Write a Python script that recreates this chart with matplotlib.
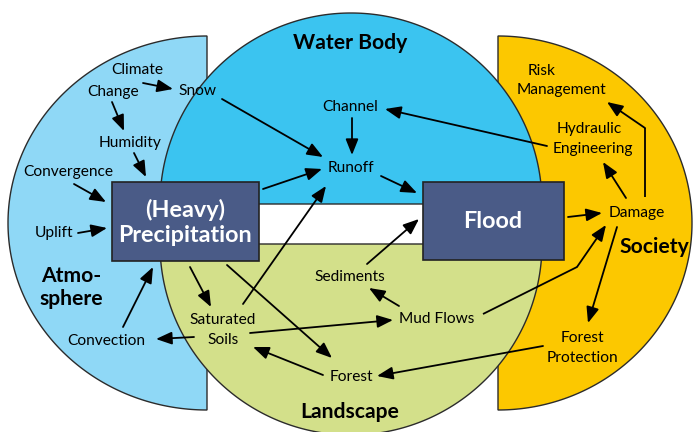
import numpy as np
import matplotlib
matplotlib.use("Agg")
import matplotlib.pyplot as plt
from matplotlib.patches import Polygon, Rectangle, FancyArrowPatch

plt.rcParams['font.family'] = ['Lato', 'DejaVu Sans']

# ---- regions: (name, center x, center y, semi-axis x, semi-axis y, angle start, angle end, color)
region_names = ["Atmosphere", "Society", "Water Body", "Landscape"]
region_cx = [207, 498, 351, 351]
region_cy = [223, 223, 204, 244]
region_ax = [199, 194, 191, 191]
region_ay = [187, 187, 191, 191]
region_t0 = [90, -90, 0, 180]
region_t1 = [270, 90, 180, 360]
region_colors = ["#8fd8f6", "#fcc800", "#3bc4f0", "#d3e08a"]

# ---- boxes
box_labels = ["(Heavy)", "Precipitation", "Flood"]
box_label_x = [185, 185, 493]
box_label_y = [210, 236, 222]
box_x0 = [112, 423]
box_y0 = [182, 182]
box_x1 = [259, 564]
box_y1 = [261, 260]

# ---- region titles
title_texts = ["Water Body", "Atmo-", "sphere", "Society", "Landscape"]
title_x = [350, 71, 71, 654, 350]
title_y = [43, 276, 299, 247, 412]

# ---- node labels
node_texts = ["Climate", "Change", "Snow", "Humidity", "Convergence", "Uplift",
              "Convection", "Saturated", "Soils", "Channel", "Runoff", "Sediments",
              "Mud Flows", "Forest", "Risk", "Management", "Hydraulic", "Engineering",
              "Damage", "Forest", "Protection"]
node_x = [137, 113, 197, 130, 68, 54, 106, 223, 223, 350, 351, 350, 437, 351, 542, 562,
          589, 593, 637, 582, 582]
node_y = [70, 92, 91, 143, 172, 233, 341, 320, 340, 107, 168, 277, 319, 377, 71, 90,
          129, 149, 213, 338, 358]

# ---- arrows (polylines, last point gets the head)
arrow_paths = [
    [(143, 83), (173, 89)],          # Climate -> Snow
    [(112, 102), (124, 131)],        # Change -> Humidity
    [(134, 153), (146, 177)],        # Humidity -> Precip
    [(74, 184), (106, 202)],         # Convergence -> Precip
    [(222, 99), (323, 157)],         # Snow -> Runoff
    [(263, 189), (322, 169)],        # Precip -> Runoff
    [(243, 304), (326, 186)],        # Saturated -> Runoff
    [(352, 118), (352, 155)],        # Channel -> Runoff
    [(381, 176), (417, 193)],        # Runoff -> Flood
    [(547, 146), (385, 109)],        # Hydraulic -> Channel
    [(626, 198), (603, 162)],        # Damage -> Hydraulic
    [(645, 197), (645, 128), (607, 102)],  # Damage -> Risk Management
    [(568, 217), (602, 213)],        # Flood -> Damage
    [(78, 233), (107, 228)],         # Uplift -> Precip
    [(123, 327), (153, 267)],        # Convection -> Precip
    [(190, 267), (211, 307)],        # Precip -> Saturated
    [(227, 265), (332, 358)],        # Precip -> Forest
    [(194, 337), (156, 339)],        # Saturated -> Convection
    [(250, 333), (393, 320)],        # Saturated -> Mud Flows
    [(323, 375), (253, 347)],        # Forest -> Saturated
    [(367, 264), (419, 219)],        # Sediments -> Flood
    [(399, 306), (369, 288)],        # Mud Flows -> Sediments
    [(483, 314), (577, 267), (606, 225)],  # Mud Flows -> Damage
    [(617, 227), (588, 323)],        # Damage -> Forest Protection
    [(543, 346), (377, 376)],        # Forest Protection -> Forest
]

W, H = 693, 432
fig = plt.figure(figsize=(W / 100, H / 100), dpi=100)
ax = fig.add_axes([0, 0, 1, 1])
ax.set_xlim(0, W)
ax.set_ylim(H, 0)
ax.axis('off')

edge = "#2b2b2b"
for i in range(len(region_names)):
    t = np.radians(np.linspace(region_t0[i], region_t1[i], 200))
    xs = region_cx[i] + region_ax[i] * np.cos(t)
    ys = region_cy[i] - region_ay[i] * np.sin(t)
    pts = np.column_stack([xs, ys])
    ax.add_patch(Polygon(pts, closed=True, facecolor=region_colors[i],
                         edgecolor=edge, lw=1.0, zorder=1 + (i >= 2)))

for i in range(len(box_x0)):
    ax.add_patch(Rectangle((box_x0[i], box_y0[i]), box_x1[i] - box_x0[i], box_y1[i] - box_y0[i],
                           facecolor="#4a5b87", edgecolor="#222222", lw=1.2, zorder=4))
for t, x, y in zip(box_labels, box_label_x, box_label_y):
    ax.text(x, y, t, color="white", fontsize=16.8, fontweight="bold",
            ha="center", va="center", zorder=6)

for t, x, y in zip(title_texts, title_x, title_y):
    ax.text(x, y, t, fontsize=15.2, fontweight="bold", ha="center", va="center",
            color="black", zorder=6)

for t, x, y in zip(node_texts, node_x, node_y):
    ax.text(x, y, t, fontsize=11.2, ha="center", va="center", color="black", zorder=6)

for path in arrow_paths:
    if len(path) > 2:
        xs = [p[0] for p in path[:-1]]
        ys = [p[1] for p in path[:-1]]
        ax.plot(xs, ys, color="black", lw=1.3, zorder=5, solid_capstyle="butt")
    a = FancyArrowPatch(path[-2], path[-1], arrowstyle="-|>,head_length=0.6,head_width=0.24",
                        mutation_scale=16, lw=1.3, color="black",
                        shrinkA=0, shrinkB=0, zorder=5)
    ax.add_patch(a)

fig.savefig("out.png", dpi=100)
